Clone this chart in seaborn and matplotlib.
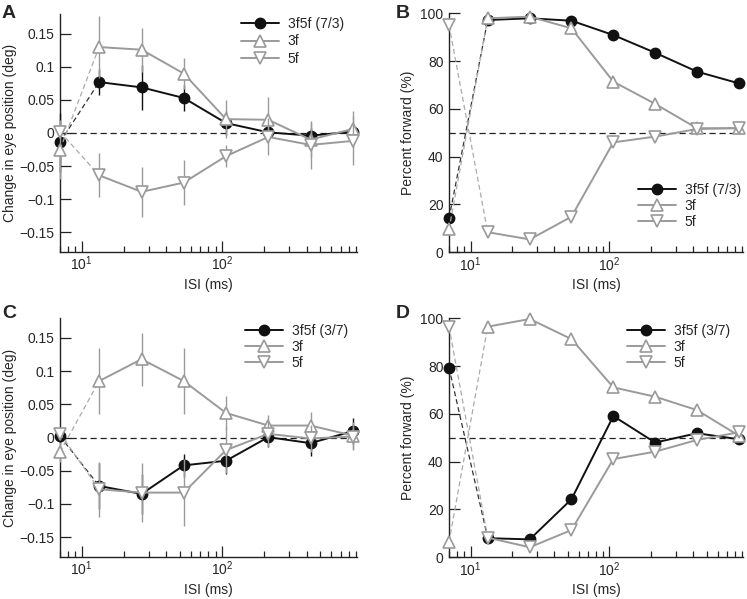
import numpy as np
import matplotlib
matplotlib.use("Agg")
import matplotlib.pyplot as plt
from matplotlib.lines import Line2D
from matplotlib.ticker import LogLocator, NullFormatter, FixedLocator
import seaborn as sns

# ---------------- data ----------------
isi = [7, 13.3, 26.7, 53.3, 106.7, 213.3, 426.7, 853.3]

a_mix = [-0.014, 0.077, 0.069, 0.053, 0.015, 0.001, -0.004, 0.002]
a_mix_err = [0.045, 0.02, 0.034, 0.02, 0.018, 0.012, 0.012, 0.012]
a_3f = [-0.025, 0.130, 0.126, 0.090, 0.021, 0.020, -0.010, 0.006]
a_3f_err = [0.045, 0.047, 0.033, 0.024, 0.029, 0.034, 0.027, 0.028]
a_5f = [0.002, -0.064, -0.089, -0.075, -0.035, -0.006, -0.018, -0.012]
a_5f_err = [0.01, 0.033, 0.038, 0.034, 0.017, 0.028, 0.036, 0.037]

b_mix = [14.2, 97.2, 97.9, 96.9, 90.9, 83.5, 75.6, 70.7]
b_3f = [9.6, 97.9, 98.6, 93.7, 71.4, 62.1, 51.9, 51.9]
b_5f = [95.1, 8.4, 5.4, 14.9, 46.0, 48.4, 51.6, 52.0]

c_mix = [0.002, -0.073, -0.085, -0.042, -0.035, 0.0005, -0.0085, 0.0095]
c_mix_err = [0.01, 0.035, 0.03, 0.017, 0.02, 0.015, 0.02, 0.02]
c_3f = [-0.022, 0.085, 0.118, 0.085, 0.037, 0.018, 0.018, 0.003]
c_3f_err = [0.015, 0.05, 0.04, 0.05, 0.026, 0.016, 0.02, 0.02]
c_5f = [0.006, -0.078, -0.083, -0.083, -0.019, 0.0055, -0.0015, 0.0015]
c_5f_err = [0.01, 0.041, 0.044, 0.051, 0.035, 0.02, 0.02, 0.02]

d_mix = [79.4, 8.0, 7.5, 24.3, 59.1, 48.0, 51.9, 49.4]
d_3f = [6.3, 96.5, 99.7, 91.3, 71.1, 67.2, 61.6, 50.9]
d_5f = [96.5, 8.2, 4.2, 11.4, 41.1, 44.2, 49.1, 52.3]

eye_ticks = [-0.15, -0.1, -0.05, 0, 0.05, 0.1, 0.15]
eye_ticklabels = ["\u22120.15", "\u22120.1", "\u22120.05", "0", "0.05", "0.1", "0.15"]
pct_ticks = [0, 20, 40, 60, 80, 100]
pct_ticklabels = ["0", "20", "40", "60", "80", "100"]

# ---------------- style ----------------
sns.set_style("ticks")
plt.rcParams["font.family"] = ["Liberation Sans", "DejaVu Sans"]
plt.rcParams["mathtext.default"] = "regular"
plt.rcParams["font.size"] = 10

BLACK = "#111111"
GRAY = "#9a9a9a"
W, H = 747, 599

fig = plt.figure(figsize=(W / 100, H / 100), dpi=100)


def ax_at(l, t, r, b):
    return fig.add_axes([l / W, 1 - b / H, (r - l) / W, (b - t) / H])


styles = {
    "mix": dict(color=BLACK, marker="o", mfc=BLACK, mec=BLACK, ms=7.5, mew=1.0, dash_color="#333333"),
    "3f": dict(color=GRAY, marker="^", mfc="white", mec=GRAY, ms=9, mew=1.2, dash_color="#aaaaaa"),
    "5f": dict(color=GRAY, marker="v", mfc="white", mec=GRAY, ms=9, mew=1.2, dash_color="#aaaaaa"),
}


def draw_series(ax, y, err, key, z):
    st = styles[key]
    if err is not None:
        ax.errorbar(isi, y, yerr=err, fmt="none", ecolor=st["color"], elinewidth=1.0,
                    capsize=0, zorder=z, clip_on=False)
    # first (dashed) segment
    sns.lineplot(x=isi[:2], y=y[:2], ax=ax, color=st["dash_color"], lw=0.9,
                 linestyle=(0, (4, 2.5)), estimator=None, errorbar=None, zorder=z + 0.1)
    # solid part
    sns.lineplot(x=isi[1:], y=y[1:], ax=ax, color=st["color"], lw=1.4,
                 marker=st["marker"], markersize=st["ms"], markerfacecolor=st["mfc"],
                 markeredgecolor=st["mec"], markeredgewidth=st["mew"],
                 estimator=None, errorbar=None, zorder=z + 0.2)
    # first marker
    sns.lineplot(x=isi[:1], y=y[:1], ax=ax, color=st["color"], lw=0,
                 marker=st["marker"], markersize=st["ms"], markerfacecolor=st["mfc"],
                 markeredgecolor=st["mec"], markeredgewidth=st["mew"],
                 estimator=None, errorbar=None, zorder=z + 0.2)
    for ln in ax.lines:
        ln.set_clip_on(False)


def handle(key):
    st = styles[key]
    return Line2D([], [], color=st["color"], lw=1.4, marker=st["marker"], markersize=st["ms"],
                  markerfacecolor=st["mfc"], markeredgecolor=st["mec"], markeredgewidth=st["mew"])


def setup(ax, kind):
    ax.set_xscale("log")
    ax.set_xlim(7, 915)
    ax.xaxis.set_major_locator(FixedLocator([10, 100]))
    ax.set_xticklabels(["10$^{1}$", "10$^{2}$"])
    ax.xaxis.set_minor_locator(LogLocator(base=10, subs=np.arange(2, 10)))
    ax.xaxis.set_minor_formatter(NullFormatter())
    if kind == "eye":
        ax.set_ylim(-0.18, 0.18)
        ax.set_yticks(eye_ticks)
        ax.set_yticklabels(eye_ticklabels)
        ax.set_ylabel("Change in eye position (deg)", labelpad=2)
        ax.axhline(0, color="#222222", lw=0.9, linestyle=(0, (5, 3)), zorder=1)
    else:
        ax.set_ylim(0, 100)
        ax.set_yticks(pct_ticks)
        ax.set_yticklabels(pct_ticklabels)
        ax.set_ylabel("Percent forward (%)", labelpad=4)
        ax.axhline(50, color="#222222", lw=0.9, linestyle=(0, (5, 3)), zorder=1)
    ax.set_xlabel("ISI (ms)", labelpad=3)
    sns.despine(ax=ax)
    for s in ("left", "bottom"):
        ax.spines[s].set_linewidth(1.0)
        ax.spines[s].set_color("#222222")
    ax.tick_params(axis="both", which="major", direction="in", length=8, width=0.9,
                   color="#222222", labelsize=10, pad=4)
    ax.tick_params(axis="x", which="major", pad=2)
    ax.tick_params(axis="x", which="minor", direction="in", length=4.5, width=0.9, color="#222222")
    ax.tick_params(axis="y", which="minor", left=False)
    ax.set_facecolor("none")


def legend(ax, label_mix, x_px, y_px, spacing):
    ax.legend(handles=[handle("mix"), handle("3f"), handle("5f")],
              labels=[label_mix, "3f", "5f"], loc="upper left",
              bbox_to_anchor=(x_px / W, 1 - y_px / H), bbox_transform=fig.transFigure,
              frameon=False, borderpad=0, borderaxespad=0, handlelength=2.75,
              handletextpad=0.6, labelspacing=spacing, fontsize=10)


axA = ax_at(60, 14, 357, 252)
axB = ax_at(449, 13.3, 743, 252.3)
axC = ax_at(60, 318, 357, 557)
axD = ax_at(449, 318.3, 743, 557.3)

for ax, kind in ((axA, "eye"), (axB, "pct"), (axC, "eye"), (axD, "pct")):
    setup(ax, kind)

draw_series(axA, a_mix, a_mix_err, "mix", 3)
draw_series(axA, a_3f, a_3f_err, "3f", 4)
draw_series(axA, a_5f, a_5f_err, "5f", 5)

draw_series(axB, b_mix, None, "mix", 3)
draw_series(axB, b_3f, None, "3f", 4)
draw_series(axB, b_5f, None, "5f", 5)

draw_series(axC, c_mix, c_mix_err, "mix", 3)
draw_series(axC, c_3f, c_3f_err, "3f", 4)
draw_series(axC, c_5f, c_5f_err, "5f", 5)

draw_series(axD, d_mix, None, "mix", 3)
draw_series(axD, d_3f, None, "3f", 4)
draw_series(axD, d_5f, None, "5f", 5)

legend(axA, "3f5f (7/3)", 241, 17, 0.25)
legend(axB, "3f5f (7/3)", 638, 183, 0.15)
legend(axC, "3f5f (3/7)", 245, 324, 0.15)
legend(axD, "3f5f (3/7)", 627, 324, 0.15)

for lab, x, y in (("A", 2, 5), ("B", 396, 5), ("C", 2, 305), ("D", 396, 305)):
    fig.text(x / W, 1 - y / H, lab, fontsize=14, fontweight="bold", va="top", ha="left")

fig.savefig("out.png", dpi=100)
